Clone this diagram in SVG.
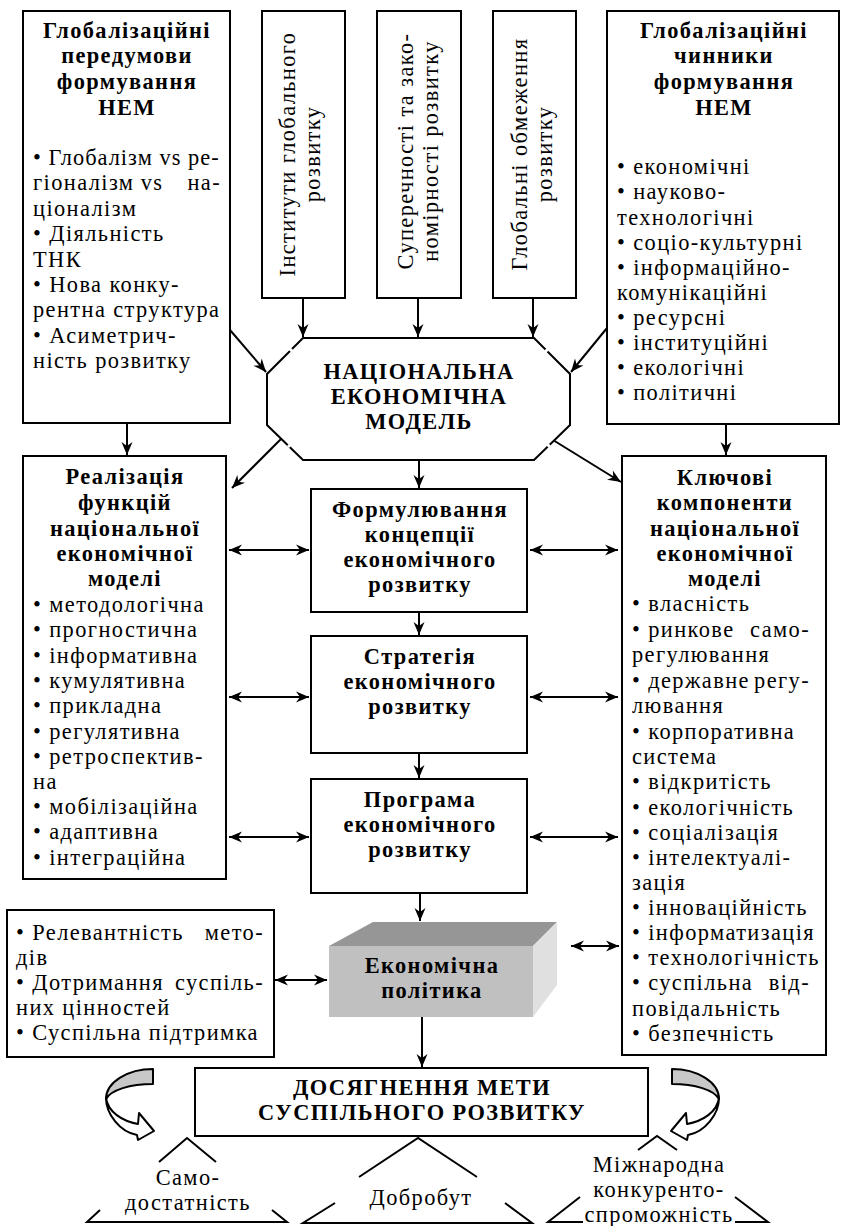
<svg xmlns="http://www.w3.org/2000/svg" width="841" height="1226" viewBox="0 0 841 1226">
<defs>
<style>
.bx{fill:#fff;stroke:#000;stroke-width:2}
.t{font-family:"Liberation Serif","Times New Roman",serif;font-size:22.4px;letter-spacing:1.4px;fill:#000}
.b{font-weight:bold}
.c{text-anchor:middle}
.e{text-anchor:end}
.ln{stroke:#000;stroke-width:2;fill:none}
.gap{stroke:#fff;stroke-width:3}
.ar{stroke:#000;stroke-width:2;fill:none;marker-end:url(#ah)}
.bi{stroke:#000;stroke-width:2;fill:none;marker-start:url(#ah);marker-end:url(#ah)}
.cv{stroke:#000;stroke-width:2;stroke-linejoin:round}
</style>
<marker id="ah" viewBox="-14 -7 15 14" refX="0" refY="0" markerWidth="15" markerHeight="14" markerUnits="userSpaceOnUse" orient="auto-start-reverse">
<path d="M0,0 L-13,-5.5 L-9,0 L-13,5.5 Z" fill="#000"/>
</marker>
</defs>

<g id="connectors">
<line class="ar" x1="127" y1="423" x2="127" y2="455"/>
<line class="ar" x1="303" y1="298" x2="303" y2="337"/>
<line class="ar" x1="418" y1="298" x2="418" y2="337"/>
<line class="ar" x1="533" y1="298" x2="533" y2="337"/>
<line class="ar" x1="230" y1="330" x2="266" y2="372"/>
<line class="ar" x1="607" y1="328" x2="571" y2="372"/>
<line class="ar" x1="726" y1="424" x2="726" y2="455"/>
<line class="ar" x1="283" y1="437" x2="232" y2="488"/>
<line class="ar" x1="419" y1="460" x2="419" y2="488"/>
<line class="ar" x1="553" y1="440" x2="621" y2="482"/>
<line class="ar" x1="419" y1="612" x2="419" y2="635"/>
<line class="ar" x1="419" y1="753" x2="419" y2="778"/>
<line class="ar" x1="420" y1="893" x2="420" y2="921"/>
<line class="ar" x1="422" y1="1017" x2="422" y2="1067"/>
<line class="bi" x1="229" y1="550" x2="309" y2="550"/>
<line class="bi" x1="229" y1="697" x2="309" y2="697"/>
<line class="bi" x1="229" y1="837" x2="309" y2="837"/>
<line class="bi" x1="530" y1="550" x2="618" y2="550"/>
<line class="bi" x1="530" y1="697" x2="618" y2="697"/>
<line class="bi" x1="530" y1="837" x2="618" y2="837"/>
<line class="bi" x1="275" y1="980" x2="327" y2="980"/>
<line class="bi" x1="571" y1="946" x2="619" y2="946"/>
</g>

<g id="n-pered">
<rect class="bx" x="23" y="11" width="207" height="412"/>
<text class="t b c" x="127" y="38">Глобалізаційні</text>
<text class="t b c" x="127" y="63">передумови</text>
<text class="t b c" x="127" y="89">формування</text>
<text class="t b c" x="127" y="115">НЕМ</text>
<text class="t" x="33" y="165" textLength="187" lengthAdjust="spacing">• Глобалізм vs ре-</text>
<text class="t" x="33" y="190">гіоналізм</text>
<text class="t c" x="152" y="190">vs</text>
<text class="t e" x="221" y="190">на-</text>
<text class="t" x="33" y="216">ціоналізм</text>
<text class="t" x="33" y="241">• Діяльність</text>
<text class="t" x="33" y="267">ТНК</text>
<text class="t" x="33" y="292">• Нова конку-</text>
<text class="t" x="33" y="317">рентна структура</text>
<text class="t" x="33" y="343">• Асиметрич-</text>
<text class="t" x="33" y="368">ність розвитку</text>
</g>

<g id="n-inst">
<rect class="bx" x="262" y="11" width="83" height="287"/>
<text class="t c" transform="translate(295,154) rotate(-90)">Інститути глобального</text>
<text class="t c" transform="translate(320,154) rotate(-90)">розвитку</text>
</g>

<g id="n-super">
<rect class="bx" x="377" y="11" width="84" height="287"/>
<text class="t c" transform="translate(413,151) rotate(-90)">Суперечності та зако-</text>
<text class="t c" transform="translate(438,151) rotate(-90)">номірності розвитку</text>
</g>

<g id="n-obm">
<rect class="bx" x="493" y="11" width="83" height="287"/>
<text class="t c" transform="translate(527,154) rotate(-90)">Глобальні обмеження</text>
<text class="t c" transform="translate(552,154) rotate(-90)">розвитку</text>
</g>

<g id="n-chyn">
<rect class="bx" x="607" y="11" width="232" height="413"/>
<text class="t b c" x="724" y="38">Глобалізаційні</text>
<text class="t b c" x="724" y="63">чинники</text>
<text class="t b c" x="724" y="89">формування</text>
<text class="t b c" x="724" y="115">НЕМ</text>
<text class="t" x="617" y="174">• економічні</text>
<text class="t" x="617" y="199">• науково-</text>
<text class="t" x="617" y="225">технологічні</text>
<text class="t" x="617" y="250">• соціо-культурні</text>
<text class="t" x="617" y="275">• інформаційно-</text>
<text class="t" x="617" y="300">комунікаційні</text>
<text class="t" x="617" y="325">• ресурсні</text>
<text class="t" x="617" y="350">• інституційні</text>
<text class="t" x="617" y="375">• екологічні</text>
<text class="t" x="617" y="400">• політичні</text>
</g>

<g id="n-nem">
<polygon class="bx" points="303,338 534,338 570,374 570,425 534,460 303,460 267,425 267,374"/>
<line class="gap" x1="289" y1="348" x2="294" y2="353"/>
<line class="gap" x1="549" y1="348" x2="544" y2="353"/>
<line class="gap" x1="288" y1="447" x2="293" y2="442"/>
<line class="gap" x1="550" y1="447" x2="545" y2="442"/>
<text class="t b c" x="419" y="379">НАЦІОНАЛЬНА</text>
<text class="t b c" x="419" y="404">ЕКОНОМІЧНА</text>
<text class="t b c" x="419" y="429">МОДЕЛЬ</text>
</g>

<g id="n-real">
<rect class="bx" x="23" y="456" width="203" height="423"/>
<text class="t b c" x="125" y="484">Реалізація</text>
<text class="t b c" x="125" y="510">функцій</text>
<text class="t b c" x="125" y="536">національної</text>
<text class="t b c" x="125" y="561">економічної</text>
<text class="t b c" x="125" y="586">моделі</text>
<text class="t" x="33" y="612">• методологічна</text>
<text class="t" x="33" y="637">• прогностична</text>
<text class="t" x="33" y="663">• інформативна</text>
<text class="t" x="33" y="688">• кумулятивна</text>
<text class="t" x="33" y="713">• прикладна</text>
<text class="t" x="33" y="739">• регулятивна</text>
<text class="t" x="33" y="764">• ретроспектив-</text>
<text class="t" x="33" y="789">на</text>
<text class="t" x="33" y="814">• мобілізаційна</text>
<text class="t" x="33" y="839">• адаптивна</text>
<text class="t" x="33" y="865">• інтеграційна</text>
</g>

<g id="n-konc">
<rect class="bx" x="311" y="489" width="216" height="123"/>
<text class="t b c" x="420" y="517">Формулювання</text>
<text class="t b c" x="420" y="542">концепції</text>
<text class="t b c" x="420" y="567">економічного</text>
<text class="t b c" x="420" y="592">розвитку</text>
</g>

<g id="n-strat">
<rect class="bx" x="311" y="636" width="216" height="117"/>
<text class="t b c" x="420" y="664">Стратегія</text>
<text class="t b c" x="420" y="689">економічного</text>
<text class="t b c" x="420" y="714">розвитку</text>
</g>

<g id="n-prog">
<rect class="bx" x="311" y="779" width="216" height="114"/>
<text class="t b c" x="420" y="807">Програма</text>
<text class="t b c" x="420" y="832">економічного</text>
<text class="t b c" x="420" y="857">розвитку</text>
</g>

<g id="n-klyuch">
<rect class="bx" x="622" y="456" width="204" height="599"/>
<text class="t b c" x="725" y="485">Ключові</text>
<text class="t b c" x="725" y="510">компоненти</text>
<text class="t b c" x="725" y="536">національної</text>
<text class="t b c" x="725" y="561">економічної</text>
<text class="t b c" x="725" y="586">моделі</text>
<text class="t" x="632" y="611">• власність</text>
<text class="t" x="632" y="637">• ринкове</text>
<text class="t e" x="810" y="637">само-</text>
<text class="t" x="632" y="662">регулювання</text>
<text class="t" x="632" y="688">• державне</text>
<text class="t e" x="810" y="688">регу-</text>
<text class="t" x="632" y="713">лювання</text>
<text class="t" x="632" y="739">• корпоративна</text>
<text class="t" x="632" y="764">система</text>
<text class="t" x="632" y="789">• відкритість</text>
<text class="t" x="632" y="815">• екологічність</text>
<text class="t" x="632" y="840">• соціалізація</text>
<text class="t" x="632" y="865">• інтелектуалі-</text>
<text class="t" x="632" y="890">зація</text>
<text class="t" x="632" y="915">• інноваційність</text>
<text class="t" x="632" y="940">• інформатизація</text>
<text class="t" x="632" y="965">• технологічність</text>
<text class="t" x="632" y="990">• суспільна</text>
<text class="t e" x="810" y="990">від-</text>
<text class="t" x="632" y="1016">повідальність</text>
<text class="t" x="632" y="1041">• безпечність</text>
</g>

<g id="n-umovy">
<rect class="bx" x="7" y="910" width="267" height="147"/>
<text class="t" x="16" y="940">• Релевантність</text>
<text class="t e" x="264" y="940">мето-</text>
<text class="t" x="16" y="965">дів</text>
<text class="t" x="16" y="990">• Дотримання</text>
<text class="t e" x="264" y="990">суспіль-</text>
<text class="t" x="16" y="1015">них цінностей</text>
<text class="t" x="16" y="1040">• Суспільна підтримка</text>
</g>

<g id="n-polityka">
<polygon points="329,946 373,922 557,922 533,946" fill="#969696"/>
<polygon points="533,946 557,922 557,985 533,1017" fill="#e0e0e0"/>
<rect x="329" y="946" width="204" height="71" fill="#c0c0c0"/>
<text class="t b c" x="432" y="973">Економічна</text>
<text class="t b c" x="432" y="998">політика</text>
</g>

<g id="n-meta">
<rect class="bx" x="195" y="1068" width="453" height="68"/>
<text class="t b c" x="422" y="1095">ДОСЯГНЕННЯ МЕТИ</text>
<text class="t b c" x="422" y="1120">СУСПІЛЬНОГО РОЗВИТКУ</text>
</g>

<g id="n-samo">
<polyline class="ln" points="159,1162 187,1138 216,1162"/>
<polyline class="ln" points="100,1210 87,1222 287,1222 272,1210"/>
<text class="t c" x="188" y="1185">Само-</text>
<text class="t c" x="188" y="1210">достатність</text>
</g>

<g id="n-dobrobut">
<polyline class="ln" points="359,1177 418,1138 477,1177"/>
<polyline class="ln" points="335,1203 303,1223 532,1223 505,1203"/>
<text class="t c" x="421" y="1205">Добробут</text>
</g>

<g id="n-konk">
<polyline class="ln" points="638,1150 657,1136 677,1150"/>
<polyline class="ln" points="580,1197 548,1222 583,1222"/>
<polyline class="ln" points="735,1222 768,1222 735,1197"/>
<text class="t c" x="659" y="1172">Міжнародна</text>
<text class="t c" x="659" y="1197">конкуренто-</text>
<text class="t c" x="659" y="1222">спроможність</text>
</g>

<g id="curved-arrows">
<g id="cv-left">
<path class="cv" fill="#fff" d="M106,1098 C106,1114 120,1132 137,1135 L138,1140 L154,1131 L139,1113 L138,1124 C122,1121 108,1112 106,1098 Z"/>
<path class="cv" fill="#c8c8c8" d="M153,1069 C128,1069 106,1082 106,1099 C111,1090 130,1084 153,1084 Z"/>
</g>
<g id="cv-right" transform="matrix(-1 0 0 1 825 0)">
<path class="cv" fill="#fff" d="M106,1098 C106,1114 120,1132 137,1135 L138,1140 L154,1131 L139,1113 L138,1124 C122,1121 108,1112 106,1098 Z"/>
<path class="cv" fill="#c8c8c8" d="M153,1069 C128,1069 106,1082 106,1099 C111,1090 130,1084 153,1084 Z"/>
</g>
</g>
</svg>
